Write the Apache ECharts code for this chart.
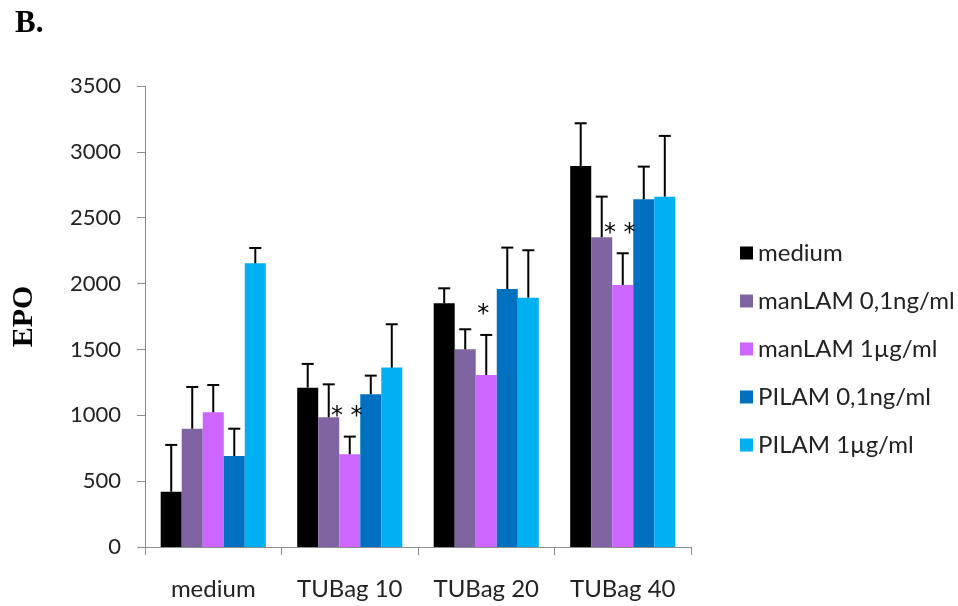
<!DOCTYPE html>
<html>
<head>
<meta charset="utf-8">
<script src="https://cdn.jsdelivr.net/npm/echarts@6/dist/echarts.min.js"></script>
<style>html,body{margin:0;padding:0;background:#fff}#c{width:958px;height:606px}</style>
</head>
<body>
<div id="c"></div>
<script>
var categories = ['medium', 'TUBag 10', 'TUBag 20', 'TUBag 40'];
var seriesNames = ['medium', 'manLAM 0,1ng/ml', 'manLAM 1µg/ml', 'PILAM 0,1ng/ml', 'PILAM 1µg/ml'];
var medium      = [420, 1210, 1850, 2893];
var manLAM01    = [898, 985, 1501, 2352];
var manLAM1     = [1023, 704, 1306, 1989];
var PILAM01     = [691, 1160, 1959, 2640];
var PILAM1      = [2154, 1362, 1893, 2660];
var mediumErr   = [355, 180, 114, 324];
var manLAM01Err = [317, 250, 152, 308];
var manLAM1Err  = [207, 134, 304, 241];
var PILAM01Err  = [207, 141, 314, 248];
var PILAM1Err   = [116, 329, 360, 461];
var significance = ['', '* *', '*', '* *']; // marks above manLAM 1µg/ml
var yTicks = [0, 500, 1000, 1500, 2000, 2500, 3000, 3500];

var values = [medium, manLAM01, manLAM1, PILAM01, PILAM1];
var errors = [mediumErr, manLAM01Err, manLAM1Err, PILAM01Err, PILAM1Err];
var colors = ['#000000', '#8064A2', '#CC66FF', '#0070C0', '#00B0F0'];
var GAP = 0.23;
var N = values.length;

var series = [];
values.forEach(function (arr, i) {
  series.push({
    name: seriesNames[i], type: 'bar', data: arr,
    barGap: '0%', barCategoryGap: (GAP * 100) + '%',
    itemStyle: { color: colors[i] }, z: 2
  });
});
values.forEach(function (arr, i) {
  var data = arr.map(function (v, k) { return [k, v, v + errors[i][k], i === 2 ? significance[k] : '']; });
  series.push({
    type: 'custom', z: 5, silent: true,
    data: data,
    encode: { x: 0, y: [1, 2] },
    renderItem: function (params, api) {
      var k = api.value(0);
      var bandW = api.size([1, 0])[0];
      var bw = bandW * (1 - GAP) / N;
      var base = api.coord([k, api.value(1)]);
      var top = api.coord([k, api.value(2)]);
      var x = base[0] - bandW * (1 - GAP) / 2 + bw * (i + 0.5);
      var children = [
        { type: 'line', shape: { x1: x, y1: base[1], x2: x, y2: top[1] }, style: { stroke: '#000', lineWidth: 2 } },
        { type: 'line', shape: { x1: x - 6, y1: top[1], x2: x + 6, y2: top[1] }, style: { stroke: '#000', lineWidth: 2 } }
      ];
      var sig = data[params.dataIndex][3];
      if (sig) {
        children.push({ type: 'text', x: x - 3, y: top[1] - 20,
          style: { text: sig, fontSize: 24, fontFamily: 'DejaVu Sans', fill: '#000', align: 'center', verticalAlign: 'middle' } });
      }
      return { type: 'group', children: children };
    }
  });
});

var chart = echarts.init(document.getElementById('c'), null, { renderer: 'canvas' });
chart.setOption({
  animation: false,
  backgroundColor: '#ffffff',
  title: { text: 'B.', left: 10, top: 3, textStyle: { fontFamily: 'Liberation Serif', fontWeight: 'bold', fontSize: 31, color: '#000' } },
  grid: { left: 145, right: 267, top: 86, bottom: 59 },
  legend: {
    orient: 'vertical', left: 735, top: 236, itemWidth: 13, itemHeight: 13, itemGap: 24,
    icon: 'rect',
    data: seriesNames,
    textStyle: { fontFamily: 'Lato', fontSize: 24, color: '#222', lineHeight: 24 }
  },
  xAxis: {
    type: 'category', data: categories,
    axisLine: { lineStyle: { color: '#8c8c8c', width: 1 } },
    axisTick: { show: true, length: 8, alignWithLabel: false, lineStyle: { color: '#8c8c8c' } },
    axisLabel: { fontFamily: 'Lato', fontSize: 24, color: '#222', margin: 30, interval: 0 }
  },
  yAxis: {
    type: 'value', min: yTicks[0], max: yTicks[yTicks.length - 1], interval: 500,
    name: 'EPO', nameLocation: 'middle', nameGap: 106, nameRotate: 90,
    nameTextStyle: { fontFamily: 'Liberation Serif', fontWeight: 'bold', fontSize: 30, color: '#000' },
    splitLine: { show: false },
    axisLine: { show: true, lineStyle: { color: '#8c8c8c', width: 1 } },
    axisTick: { show: true, length: 8, lineStyle: { color: '#8c8c8c' } },
    axisLabel: { fontFamily: 'Lato', fontSize: 22, color: '#222', margin: 24, formatter: function (v) { return String(v); } }
  },
  series: series
});
</script>
</body>
</html>
